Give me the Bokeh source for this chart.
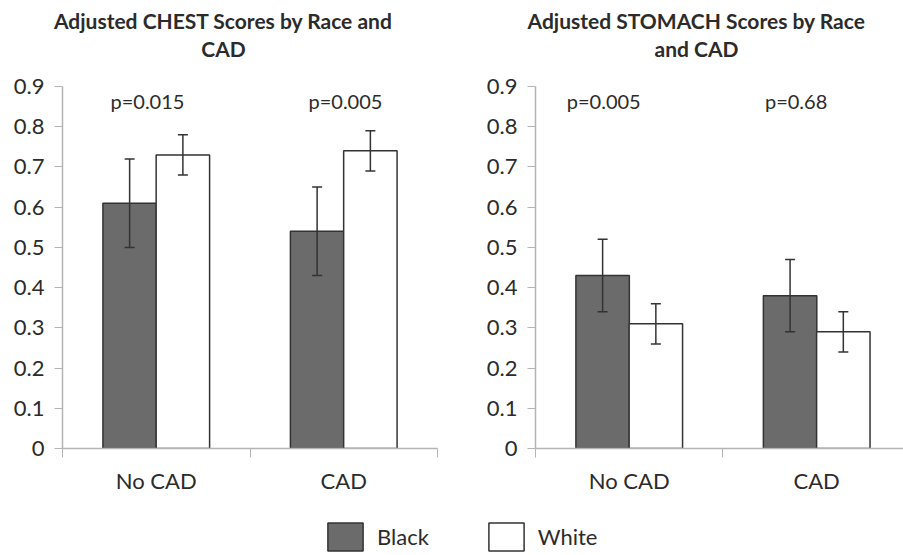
from bokeh.plotting import figure
from bokeh.models import (Range1d, FixedTicker, Whisker, TeeHead, ColumnDataSource,
                          Legend, LegendItem)
from bokeh.layouts import column, row
from bokeh.embed import file_html
from bokeh.resources import INLINE
from bokeh.core.properties import value

# ---------------- data ----------------
categories = ["No CAD", "CAD"]
groups = ["Black", "White"]

chest_title = ["Adjusted CHEST Scores by Race and", "CAD"]
chest_black = [0.61, 0.54]
chest_black_lo = [0.50, 0.43]
chest_black_hi = [0.72, 0.65]
chest_white = [0.73, 0.74]
chest_white_lo = [0.68, 0.69]
chest_white_hi = [0.78, 0.79]
chest_p = ["p=0.015", "p=0.005"]

stomach_title = ["Adjusted STOMACH Scores by Race", "and CAD"]
stomach_black = [0.43, 0.38]
stomach_black_lo = [0.34, 0.29]
stomach_black_hi = [0.52, 0.47]
stomach_white = [0.31, 0.29]
stomach_white_lo = [0.26, 0.24]
stomach_white_hi = [0.36, 0.34]
stomach_p = ["p=0.005", "p=0.68"]

y_ticks = [0, 0.1, 0.2, 0.3, 0.4, 0.5, 0.6, 0.7, 0.8, 0.9]
y_tick_labels = ["0", "0.1", "0.2", "0.3", "0.4", "0.5", "0.6", "0.7", "0.8", "0.9"]

# ---------------- style ----------------
FONT = "Lato"
DARK_FILL = "#6b6b6b"
EDGE = "#333333"
AXIS_C = "#b4b4b4"
TEXT_C = "#2b2b2b"
BAR_W = 0.285
OFF = 0.142
TITLE_H = 62


def make_panel(black, blo, bhi, white, wlo, whi, plabels, p_x,
               width, border_left, border_right, x_end):
    n = len(categories)
    p = figure(width=width, height=505 - TITLE_H, x_range=Range1d(0, x_end),
               y_range=Range1d(0, 0.9),
               output_backend="svg", toolbar_location=None,
               min_border_left=border_left, min_border_right=border_right,
               min_border_top=86 - TITLE_H, min_border_bottom=57)
    p.outline_line_color = None
    p.xgrid.visible = False
    p.ygrid.visible = False
    p.background_fill_color = "white"
    p.border_fill_color = "white"

    xb = [i + 0.5 - OFF for i in range(n)]
    xw = [i + 0.5 + OFF for i in range(n)]
    p.vbar(x=xb, top=black, bottom=0, width=BAR_W, fill_color=DARK_FILL,
           line_color=EDGE, line_width=1.5)
    p.vbar(x=xw, top=white, bottom=0, width=BAR_W, fill_color="white",
           line_color=EDGE, line_width=1.5)

    src = ColumnDataSource(dict(x=xb + xw, lo=list(blo) + list(wlo), hi=list(bhi) + list(whi)))
    w = Whisker(source=src, base="x", lower="lo", upper="hi", dimension="height",
                line_color=EDGE, line_width=1.5, level="overlay",
                upper_head=TeeHead(size=10, line_color=EDGE, line_width=1.5),
                lower_head=TeeHead(size=10, line_color=EDGE, line_width=1.5))
    p.add_layout(w)

    p.text(x=p_x, y=[0.865] * len(plabels), text=plabels, text_align="center",
           text_baseline="middle", text_font=value(FONT), text_font_size="20px",
           text_color=TEXT_C)

    # x axis: labels at category centres, ticks at category boundaries
    p.xaxis.ticker = FixedTicker(ticks=[i + 0.5 for i in range(n)],
                                 minor_ticks=[float(i) for i in range(n + 1)])
    p.xaxis.major_label_overrides = {i + 0.5: c for i, c in enumerate(categories)}
    p.xaxis.major_tick_line_color = None
    p.xaxis.major_tick_out = 0
    p.xaxis.major_tick_in = 0
    p.xaxis.minor_tick_in = 0
    p.xaxis.minor_tick_out = 9
    p.xaxis.minor_tick_line_color = AXIS_C
    p.xaxis.axis_line_color = AXIS_C
    p.xaxis.axis_line_width = 1.5
    p.xaxis.major_label_standoff = 9
    p.xaxis.major_label_text_font = FONT
    p.xaxis.major_label_text_font_size = "22px"
    p.xaxis.major_label_text_color = TEXT_C

    p.yaxis.ticker = FixedTicker(ticks=y_ticks, minor_ticks=[])
    p.yaxis.major_label_overrides = {t: l for t, l in zip(y_ticks, y_tick_labels)}
    p.yaxis.major_tick_in = 0
    p.yaxis.major_tick_out = 8
    p.yaxis.major_tick_line_color = AXIS_C
    p.yaxis.axis_line_color = AXIS_C
    p.yaxis.axis_line_width = 1.5
    p.yaxis.major_label_standoff = 10
    p.yaxis.major_label_text_font = FONT
    p.yaxis.major_label_text_font_size = "22px"
    p.yaxis.major_label_text_color = TEXT_C
    return p


# ---------------- titles (text strip over both panels) ----------------
tf = figure(width=903, height=TITLE_H, x_range=Range1d(0, 903), y_range=Range1d(TITLE_H, 0),
            output_backend="svg", toolbar_location=None, min_border=0)
tf.axis.visible = False
tf.grid.visible = False
tf.outline_line_color = None
tf.text(x=[223, 223, 696, 696], y=[20, 48, 20, 48],
        text=chest_title + stomach_title, text_align="center", text_baseline="middle",
        text_font=value(FONT), text_font_size="21px", text_font_style="bold",
        text_color=TEXT_C)

left = make_panel(chest_black, chest_black_lo, chest_black_hi,
                  chest_white, chest_white_lo, chest_white_hi,
                  chest_p, [0.453, 1.509],
                  width=470, border_left=62, border_right=33, x_end=2.0)

right = make_panel(stomach_black, stomach_black_lo, stomach_black_hi,
                   stomach_white, stomach_white_lo, stomach_white_hi,
                   stomach_p, [0.364, 1.39],
                   width=433, border_left=65, border_right=0, x_end=1.963)

# ---------------- legend ----------------
# legend-only strip: its bar renderers are hidden, only the legend swatches show
lf = figure(width=903, height=50, x_range=Range1d(0, 2), y_range=Range1d(0, 1),
            output_backend="svg", toolbar_location=None, min_border=0)
lf.axis.visible = False
lf.grid.visible = False
lf.outline_line_color = None
xc = [i + 0.5 for i in range(len(categories))]
r_black = lf.vbar(x=xc, top=chest_black, width=BAR_W,
                  fill_color=DARK_FILL, line_color=EDGE, line_width=1.5)
r_white = lf.vbar(x=xc, top=chest_white, width=BAR_W,
                  fill_color="white", line_color=EDGE, line_width=1.5)
r_black.visible = False
r_white.visible = False
legend = Legend(items=[LegendItem(label=groups[0], renderers=[r_black]),
                       LegendItem(label=groups[1], renderers=[r_white])],
                orientation="horizontal", location=(323, 1),
                glyph_width=44, glyph_height=35, label_standoff=10, spacing=55,
                padding=0, margin=0, border_line_color=None, background_fill_alpha=0,
                label_text_font=FONT, label_text_font_size="22px", label_text_color=TEXT_C)
lf.add_layout(legend)

layout = column(tf, row(left, right), lf)
open("out.html", "w").write(file_html(layout, INLINE))
